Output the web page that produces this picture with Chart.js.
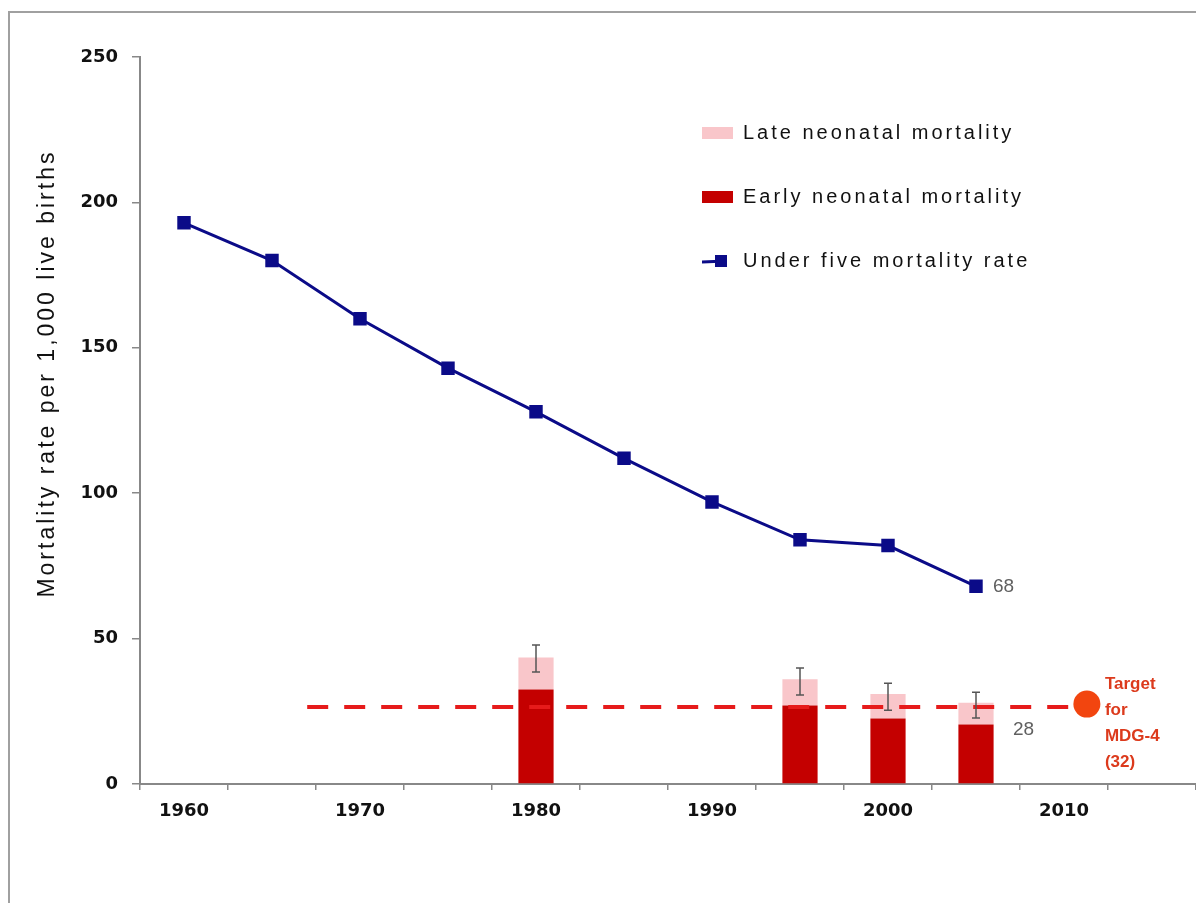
<!DOCTYPE html>
<html>
<head>
<meta charset="utf-8">
<script src="https://cdn.jsdelivr.net/npm/chart.js@4/dist/chart.umd.min.js"></script>
<style>
html, body { margin: 0; background: #fff; overflow: hidden; }
#frame { position: absolute; left: 8px; top: 11px; width: 1186px; height: 890px; border-left: 2px solid #a0a0a0; border-top: 2px solid #a0a0a0; }
#wrap { position: absolute; left: 0; top: 0; width: 1196px; height: 903px; }
</style>
</head>
<body>
<div id="frame"></div>
<div id="wrap"><canvas id="myChart"></canvas></div>
<script>
// categories (5-year steps)
var years = ["1960", "1965", "1970", "1975", "1980", "1985", "1990", "1995", "2000", "2005", "2010", "2015"];
// series
var under5 = [193, 180, 160, 143, 128, 112, 97, 84, 82, 68, null, null];
var earlyNeo = [null, null, null, null, 32.5, null, null, 27, 22.5, 20.5, null, null];
var lateNeo = [null, null, null, null, 11, null, null, 9, 8.5, 7.5, null, null];
var errLow = [null, null, null, null, 38.5, null, null, 30.6, 25.4, 22.7, null, null];
var errHigh = [null, null, null, null, 47.8, null, null, 39.9, 34.7, 31.6, null, null];
// MDG-4 target
var targetFrom = 1967, targetTo = 2011, targetRate = 26.5;
var targetMarkYear = 2011.3, targetMarkRate = 27.5;
var targetText = ["Target", "for", "MDG-4", "(32)"];
var yTicks = [0, 50, 100, 150, 200, 250];

var navy = "#0b0b88";

// legend icon for the line series
var u5Icon = document.createElement("canvas");
u5Icon.width = 31; u5Icon.height = 14;
var ic = u5Icon.getContext("2d");
ic.strokeStyle = navy; ic.lineWidth = 3;
ic.beginPath(); ic.moveTo(0, 8); ic.lineTo(24, 7); ic.stroke();
ic.fillStyle = navy; ic.fillRect(13, 1, 12, 12);

var extras = {
    id: "extras",
    beforeDraw: function (chart) {
        var lg = chart.legend;
        lg.left = 658;
        lg.top = 79;
        if (!lg._spaced) {
            var d = lg.draw;
            lg.draw = function () {
                var c = chart.ctx; c.save(); c.letterSpacing = "3px";
                d.apply(this, arguments); c.restore();
            };
            lg._spaced = true;
        }
        var ys = chart.scales.y;
        if (!ys._spaced) {
            var dt = ys.drawTitle;
            ys.drawTitle = function () {
                var c = chart.ctx; c.save(); c.letterSpacing = "3px";
                dt.apply(this, arguments); c.restore();
            };
            ys._spaced = true;
        }
    },
    afterDatasetsDraw: function (chart) {
        var c = chart.ctx, x = chart.scales.x, y = chart.scales.y, xt = chart.scales.xt;
        c.save();
        // error bars
        c.strokeStyle = "#555"; c.lineWidth = 1.5;
        for (var i = 0; i < years.length; i++) {
            if (errLow[i] == null) continue;
            var px = x.getPixelForValue(i), y1 = y.getPixelForValue(errLow[i]), y2 = y.getPixelForValue(errHigh[i]);
            c.beginPath();
            c.moveTo(px, y1); c.lineTo(px, y2);
            c.moveTo(px - 4, y1); c.lineTo(px + 4, y1);
            c.moveTo(px - 4, y2); c.lineTo(px + 4, y2);
            c.stroke();
        }
        // value labels
        c.fillStyle = "#606060"; c.font = "19px 'Liberation Sans'"; c.textBaseline = "middle"; c.textAlign = "left";
        var last = 9;
        c.fillText(String(under5[last]), x.getPixelForValue(last) + 17, y.getPixelForValue(under5[last]));
        var tot = earlyNeo[last] + lateNeo[last];
        c.fillText(String(tot), x.getPixelForValue(last) + 37, y.getPixelForValue(tot) + 27);
        // target text
        c.fillStyle = "#dc3a1c"; c.font = "bold 17px 'Liberation Sans'";
        var tx = xt.getPixelForValue(targetMarkYear) + 18, ty = y.getPixelForValue(targetMarkRate) - 20;
        for (var k = 0; k < targetText.length; k++) {
            c.fillText(targetText[k], tx, ty + k * 26);
        }
        c.restore();
    }
};

new Chart("myChart", {
    type: "bar",
    data: {
        labels: years,
        datasets: [{
            label: "Early neonatal mortality",
            data: earlyNeo,
            backgroundColor: "#c40000",
            stack: "neo",
            grouped: false,
            barPercentage: 0.4,
            categoryPercentage: 1,
            order: 3
        }, {
            label: "Late neonatal mortality",
            data: lateNeo,
            backgroundColor: "#f9c6ca",
            stack: "neo",
            grouped: false,
            barPercentage: 0.4,
            categoryPercentage: 1,
            order: 3
        }, {
            type: "line",
            label: "Target",
            data: [{x: targetFrom, y: targetRate}, {x: targetTo, y: targetRate}],
            xAxisID: "xt",
            borderColor: "#e61b1b",
            borderWidth: 4,
            borderDash: [21, 16],
            pointRadius: 0,
            order: 2
        }, {
            type: "line",
            label: "MDG-4",
            data: [{x: targetMarkYear, y: targetMarkRate}],
            xAxisID: "xt",
            showLine: false,
            pointRadius: 13.5,
            pointBorderWidth: 0,
            pointBackgroundColor: "#f2450f",
            order: 1
        }, {
            type: "line",
            label: "Under five mortality rate",
            data: under5,
            borderColor: navy,
            borderWidth: 3,
            pointStyle: "rect",
            pointRadius: 9.5,
            pointBorderWidth: 0,
            pointBackgroundColor: navy,
            order: 0
        }]
    },
    options: {
        responsive: true,
        maintainAspectRatio: false,
        animation: false,
        layout: { autoPadding: false, padding: { top: 57, right: 0, bottom: 71, left: 0 } },
        scales: {
            x: {
                type: "category",
                offset: true,
                grid: { offset: true, drawOnChartArea: false, tickLength: 6, color: "#888", lineWidth: 1.5 },
                border: { color: "#888", width: 2 },
                ticks: {
                    autoSkip: false,
                    maxRotation: 0,
                    padding: 0,
                    color: "#111",
                    font: { family: "DejaVu Sans", weight: "bold", size: 18, lineHeight: 2.33 },
                    callback: function (v, i) { return Number(years[i]) % 10 === 0 ? years[i] : ""; }
                }
            },
            xt: { type: "linear", display: false, offset: false, min: 1957.5, max: 2017.5 },
            y: {
                min: 0,
                max: 250,
                afterBuildTicks: function (axis) { axis.ticks = yTicks.map(function (v) { return {value: v}; }); },
                afterFit: function (s) { s.width = 140; },
                grid: { drawOnChartArea: false, tickLength: 8, color: "#888", lineWidth: 1.5 },
                border: { color: "#888", width: 2 },
                ticks: {
                    padding: 14,
                    color: "#111",
                    font: { family: "DejaVu Sans", weight: "bold", size: 18 }
                },
                title: {
                    display: true,
                    text: "          Mortality rate per 1,000 live births",
                    color: "#111",
                    font: { family: "Liberation Sans", size: 23 },
                    padding: { top: 34, bottom: 0 }
                }
            }
        },
        plugins: {
            legend: {
                position: "chartArea",
                align: "start",
                labels: {
                    usePointStyle: true,
                    pointStyleWidth: 31,
                    boxHeight: 12,
                    padding: 44,
                    color: "#111",
                    font: { family: "Liberation Sans", size: 20 },
                    generateLabels: function (chart) {
                        var items = Chart.defaults.plugins.legend.labels.generateLabels(chart);
                        items.forEach(function (it) {
                            it.pointStyle = it.datasetIndex === 4 ? u5Icon : "rect";
                            it.lineWidth = 0;
                        });
                        return items;
                    },
                    filter: function (it) { return [0, 1, 4].indexOf(it.datasetIndex) >= 0; },
                    sort: function (a, b) {
                        var rank = {1: 0, 0: 1, 4: 2};
                        return rank[a.datasetIndex] - rank[b.datasetIndex];
                    }
                }
            },
            tooltip: { enabled: false }
        }
    },
    plugins: [extras]
});
</script>
</body>
</html>
